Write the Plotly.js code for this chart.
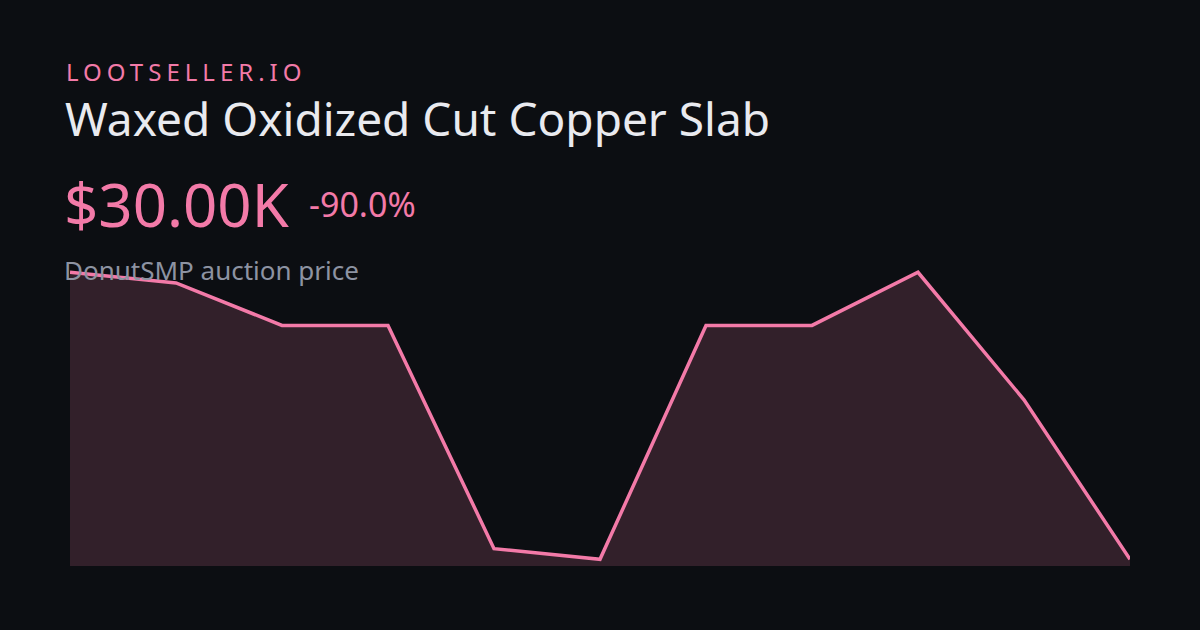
<!DOCTYPE html>
<html>
<head>
<meta charset="utf-8">
<script src="https://cdn.plot.ly/plotly-3.0.1.min.js"></script>
<style>
  html, body { margin: 0; padding: 0; background: #0c0e12; }
  #chart { width: 1200px; height: 630px; }
  text[data-unformatted="LOOTSELLER.IO"] { letter-spacing: 5px; }
</style>
</head>
<body>
<div id="chart"></div>
<script>
// ---- data ----
const points = [0, 1, 2, 3, 4, 5, 6, 7, 8, 9, 10];
const prices = [300000, 290000, 250000, 250000, 40000, 30000, 250000, 250000, 300000, 180000, 30000];

const brand = "LOOTSELLER.IO";
const itemName = "Waxed Oxidized Cut Copper Slab";
const currentLabel = "$30.00K";
const changeLabel = "-90.0%";
const subtitle = "DonutSMP auction price";

const PINK = "#f37aa8";
const BG = "#0c0e12";
const FONT = "Noto Sans, Open Sans, sans-serif";

const trace = {
  x: points,
  y: prices,
  type: "scatter",
  mode: "lines",
  line: { color: PINK, width: 3.5, shape: "linear" },
  fill: "tozeroy",
  fillcolor: "rgba(243,122,168,0.17)",
  hoverinfo: "skip"
};

const W = 1200, H = 630;
function px(x) { return x / W; }
function py(y) { return 1 - y / H; }

const layout = {
  width: W,
  height: H,
  margin: { l: 0, r: 0, t: 0, b: 0, pad: 0 },
  paper_bgcolor: BG,
  plot_bgcolor: BG,
  showlegend: false,
  xaxis: {
    domain: [px(70), px(1130)],
    range: [0, 10],
    visible: false,
    fixedrange: true
  },
  yaxis: {
    domain: [py(566), py(266)],
    range: [23700, 305900],
    visible: false,
    fixedrange: true
  },
  annotations: [
    { text: brand, xref: "paper", yref: "paper", x: px(64), y: py(71), xanchor: "left", yanchor: "middle",
      showarrow: false, font: { family: FONT, size: 24, color: PINK } },
    { text: itemName, xref: "paper", yref: "paper", x: px(63), y: py(118), xanchor: "left", yanchor: "middle",
      showarrow: false, font: { family: FONT, size: 46, color: "#e9eaef" } },
    { text: currentLabel, xref: "paper", yref: "paper", x: px(62), y: py(204), xanchor: "left", yanchor: "middle",
      showarrow: false, font: { family: FONT, size: 60, color: PINK } },
    { text: changeLabel, xref: "paper", yref: "paper", x: px(307), y: py(204), xanchor: "left", yanchor: "middle",
      showarrow: false, font: { family: FONT, size: 34, color: PINK } },
    { text: subtitle, xref: "paper", yref: "paper", x: px(62), y: py(270), xanchor: "left", yanchor: "middle",
      showarrow: false, font: { family: FONT, size: 26, color: "#8d93a2" } }
  ]
};

Plotly.newPlot("chart", [trace], layout, { staticPlot: true, displayModeBar: false });
</script>
</body>
</html>
